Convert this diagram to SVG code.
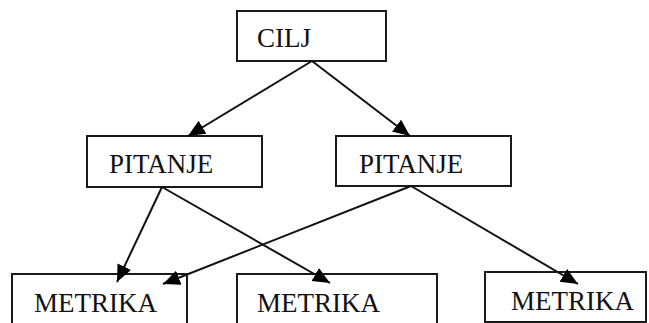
<svg xmlns="http://www.w3.org/2000/svg" width="649" height="323" viewBox="0 0 649 323">
<style>
.box{fill:#fff;stroke:#1a1a1a;stroke-width:2}
.lbl{font-family:"Liberation Serif","Times New Roman",serif;font-size:27px;fill:#111}
.edge{stroke:#111;stroke-width:2;fill:none;marker-end:url(#ah)}
</style>
<defs>
<marker id="ah" markerUnits="userSpaceOnUse" markerWidth="18" markerHeight="16" refX="17" refY="7.5" orient="auto">
<path d="M0,0 L17,7.5 L0,15 z" fill="#000"/>
</marker>
</defs>
<rect width="649" height="323" fill="#fff"/>
<g id="cilj"><rect class="box" x="237" y="11" width="149" height="50"/><text class="lbl" x="257" y="47">CILJ</text></g>
<g id="pitanje1"><rect class="box" x="87" y="136" width="175" height="51"/><text class="lbl" x="109" y="173">PITANJE</text></g>
<g id="pitanje2"><rect class="box" x="336" y="136" width="175" height="50"/><text class="lbl" x="359" y="173">PITANJE</text></g>
<g id="metrika1"><rect class="box" x="12" y="274" width="175" height="60"/><text class="lbl" x="34" y="312">METRIKA</text></g>
<g id="metrika2"><rect class="box" x="237" y="274" width="200" height="60"/><text class="lbl" x="257" y="312">METRIKA</text></g>
<g id="metrika3"><rect class="box" x="485" y="272" width="161" height="50"/><text class="lbl" x="511" y="310">METRIKA</text></g>
<g id="connectors">
<line class="edge" x1="312" y1="61" x2="188" y2="136"/>
<line class="edge" x1="312" y1="61" x2="410" y2="136"/>
<line class="edge" x1="162" y1="187" x2="117" y2="282"/>
<line class="edge" x1="162" y1="187" x2="330" y2="283"/>
<line class="edge" x1="411" y1="186" x2="163" y2="284"/>
<line class="edge" x1="411" y1="186" x2="578" y2="284"/>
</g>
</svg>
